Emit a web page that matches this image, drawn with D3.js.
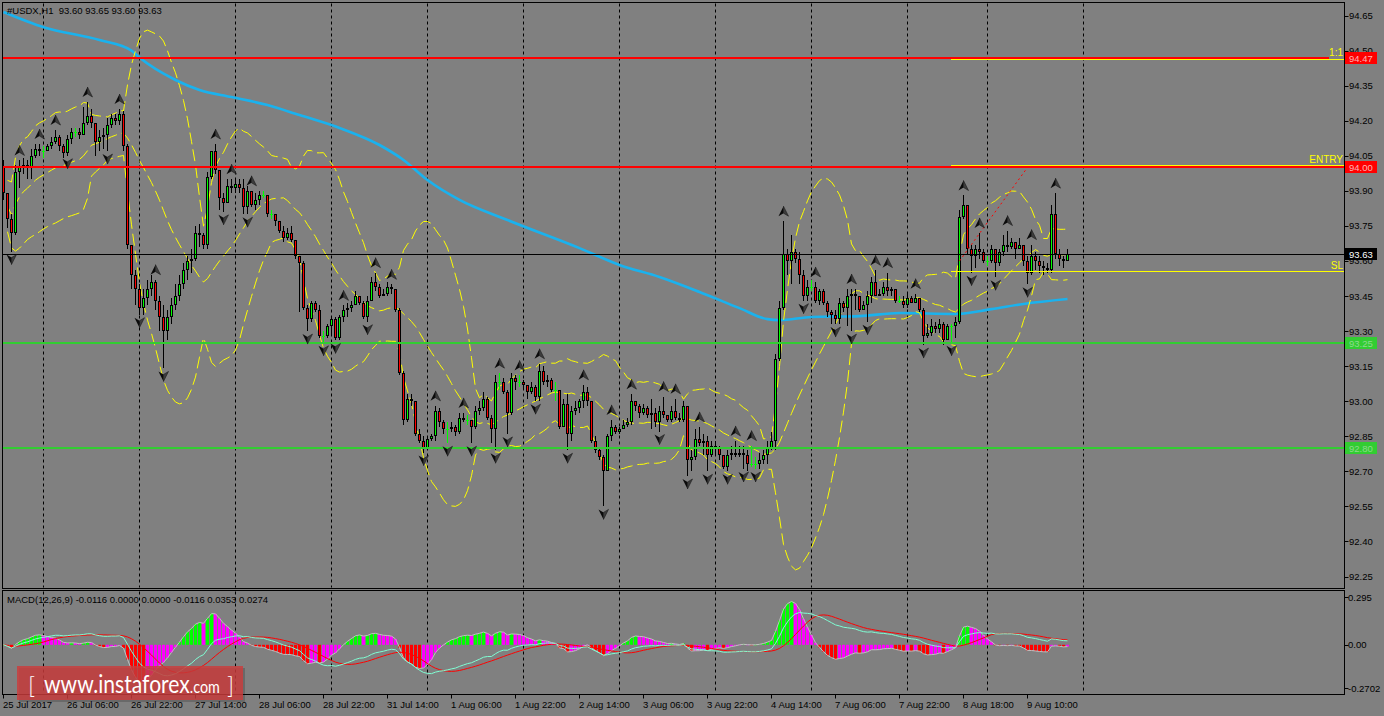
<!DOCTYPE html>
<html><head><meta charset="utf-8">
<script src="https://cdn.jsdelivr.net/npm/d3@7"></script>
<style>html,body{margin:0;padding:0;background:#808080;overflow:hidden}svg{display:block}text{white-space:pre}</style>
</head><body><svg id="c" width="1384" height="716"></svg>
<script>
// ---------------- DATA ----------------
const chartTitle = "#USDX,H1  93.60 93.65 93.60 93.63";
const macdTitle = "MACD(12,26,9) -0.0116 0.0000 0.0000 -0.0116 0.0353 0.0274";
const firstOpen = 94.00;
const closes = [
93.89,93.78,93.72,93.98,94.00,94.01,94.00,94.05,94.08,94.07,
94.07,94.09,94.11,94.13,94.09,94.06,94.12,94.15,94.15,94.14,
94.19,94.22,94.19,94.11,94.13,94.14,94.18,94.21,94.20,94.23,
94.09,93.67,93.54,93.48,93.40,93.44,93.48,93.51,93.43,93.36,
93.30,93.36,93.41,93.45,93.50,93.56,93.60,93.61,93.72,93.71,
93.67,93.96,94.07,93.99,93.87,93.85,93.92,93.91,93.93,93.91,
93.83,93.90,93.84,93.86,93.88,93.88,93.80,93.80,93.77,93.73,
93.70,93.72,93.69,93.62,93.59,93.40,93.35,93.42,93.39,93.28,
93.28,93.32,93.35,93.27,93.36,93.39,93.40,93.41,93.45,93.42,
93.36,93.43,93.51,93.49,93.45,93.46,93.49,93.48,93.39,93.12,
92.92,93.01,93.00,92.86,92.83,92.80,92.84,92.85,92.96,92.91,
92.88,92.88,92.89,92.87,92.93,92.92,92.92,92.89,92.96,92.97,
93.01,92.93,92.88,93.08,93.08,93.04,92.95,93.10,93.08,93.08,
93.07,93.04,93.06,93.02,93.13,93.08,93.09,93.05,93.05,92.89,
92.99,92.86,92.96,92.97,93.00,93.04,93.00,92.83,92.79,92.76,
92.70,92.85,92.89,92.87,92.88,92.90,92.91,93.00,92.98,92.95,
92.97,92.94,92.95,92.91,92.96,92.94,92.92,92.96,92.93,92.92,
92.98,92.75,92.76,92.84,92.82,92.83,92.77,92.81,92.80,92.77,
92.72,92.77,92.78,92.77,92.78,92.77,92.73,92.73,92.73,92.75,
92.77,92.80,92.83,93.18,93.40,93.63,93.60,93.64,93.61,93.54,
93.45,93.49,93.49,93.43,93.47,93.42,93.38,93.37,93.35,93.42,
93.40,93.45,93.46,93.45,93.39,93.41,93.45,93.51,93.45,93.46,
93.49,93.47,93.48,93.43,93.43,93.41,93.44,93.42,93.44,93.39,
93.28,93.29,93.32,93.31,93.33,93.26,93.32,93.32,93.34,93.79,
93.84,93.65,93.62,93.65,93.64,93.60,93.60,93.65,93.59,93.64,
93.67,93.66,93.68,93.65,93.67,93.60,93.55,93.62,93.60,93.58,
93.57,93.56,93.80,93.63,93.61,93.60,93.63];
const highs = [
94.03,93.84,93.80,94.01,94.03,94.04,94.03,94.08,94.10,94.10,
94.09,94.10,94.13,94.16,94.14,94.10,94.14,94.17,94.17,94.17,
94.26,94.28,94.25,94.19,94.16,94.17,94.21,94.23,94.23,94.25,
94.24,94.10,93.67,93.56,93.50,93.48,93.52,93.54,93.52,93.45,
93.41,93.39,93.44,93.50,93.54,93.59,93.62,93.65,93.75,93.76,
93.72,93.98,94.07,94.10,93.99,93.89,93.95,93.95,93.95,93.95,
93.95,93.92,93.90,93.89,93.90,93.90,93.88,93.82,93.80,93.77,
93.75,93.74,93.75,93.69,93.62,93.60,93.41,93.43,93.43,93.41,
93.30,93.33,93.36,93.36,93.37,93.41,93.42,93.43,93.47,93.45,
93.43,93.45,93.53,93.55,93.50,93.48,93.51,93.50,93.48,93.40,
93.13,93.03,93.03,93.00,92.88,92.85,92.85,92.86,92.98,92.97,
92.92,92.91,92.91,92.90,92.95,92.95,92.94,92.92,92.98,93.00,
93.04,93.02,92.94,93.11,93.12,93.10,93.05,93.12,93.11,93.11,
93.09,93.07,93.08,93.07,93.16,93.15,93.11,93.10,93.08,93.05,
93.01,93.03,92.98,93.00,93.01,93.07,93.06,93.00,92.85,92.80,
92.77,92.86,92.92,92.90,92.89,92.92,92.93,93.03,93.00,92.99,
92.99,92.98,93.01,92.97,92.98,93.02,92.94,92.98,93.01,92.95,
93.00,92.98,92.79,92.88,92.89,92.86,92.85,92.83,92.83,92.81,
92.77,92.79,92.81,92.83,92.81,92.81,92.79,92.81,92.76,92.78,
92.79,92.83,92.87,93.20,93.43,93.77,93.65,93.71,93.65,93.64,
93.56,93.52,93.52,93.51,93.48,93.48,93.43,93.39,93.39,93.44,
93.43,93.48,93.48,93.48,93.43,93.43,93.47,93.53,93.56,93.48,
93.51,93.55,93.49,93.48,93.45,93.45,93.46,93.45,93.46,93.44,
93.40,93.33,93.35,93.34,93.35,93.34,93.33,93.33,93.36,93.82,
93.88,93.84,93.67,93.67,93.72,93.65,93.62,93.67,93.62,93.65,
93.71,93.73,93.70,93.68,93.70,93.67,93.62,93.67,93.64,93.62,
93.60,93.59,93.84,93.89,93.65,93.62,93.65];
const lows = [
93.86,93.74,93.64,93.71,93.91,93.97,93.95,93.95,94.04,94.05,
94.04,94.07,94.08,94.10,94.07,94.04,94.05,94.10,94.13,94.12,
94.14,94.18,94.17,94.05,94.07,94.08,94.07,94.17,94.18,94.18,
94.07,93.65,93.48,93.41,93.37,93.37,93.41,93.45,93.39,93.30,
93.14,93.26,93.33,93.39,93.43,93.48,93.52,93.55,93.60,93.66,
93.65,93.65,93.95,93.97,93.82,93.81,93.86,93.89,93.89,93.89,
93.80,93.80,93.83,93.82,93.84,93.87,93.79,93.78,93.75,93.72,
93.68,93.69,93.68,93.61,93.38,93.39,93.30,93.34,93.38,93.27,
93.25,93.27,93.28,93.26,93.26,93.34,93.36,93.38,93.41,93.41,
93.35,93.34,93.43,93.47,93.44,93.45,93.45,93.46,93.38,93.11,
92.90,92.91,92.98,92.85,92.82,92.78,92.79,92.83,92.83,92.89,
92.86,92.82,92.87,92.85,92.86,92.91,92.90,92.82,92.88,92.94,
92.96,92.92,92.82,92.79,93.05,93.03,92.86,92.94,93.05,93.06,
93.05,93.01,93.03,93.00,93.00,93.07,93.06,93.04,93.00,92.88,
92.92,92.79,92.83,92.94,92.95,92.97,92.98,92.82,92.78,92.75,
92.55,92.71,92.83,92.86,92.86,92.88,92.89,92.90,92.96,92.93,
92.94,92.93,92.88,92.89,92.87,92.93,92.91,92.91,92.92,92.91,
92.91,92.68,92.70,92.75,92.81,92.77,92.70,92.76,92.77,92.75,
92.71,92.70,92.75,92.76,92.76,92.71,92.70,92.72,92.71,92.71,
92.73,92.73,92.79,92.79,93.17,93.39,93.54,93.50,93.59,93.50,
93.43,93.43,93.47,93.42,93.41,93.41,93.36,93.33,93.33,93.33,
93.38,93.32,93.30,93.39,93.38,93.39,93.34,93.42,93.45,93.45,
93.45,93.45,93.45,93.42,93.42,93.40,93.40,93.42,93.42,93.38,
93.24,93.27,93.28,93.29,93.29,93.24,93.26,93.25,93.27,93.33,
93.78,93.63,93.55,93.57,93.61,93.59,93.58,93.59,93.53,93.58,
93.62,93.64,93.65,93.61,93.65,93.58,93.50,93.54,93.56,93.55,
93.54,93.55,93.55,93.61,93.58,93.57,93.60];
// 200-period moving average at selected bars
const maBars   = [0,10,24,32,34,43,49,57,66,74,84,94,100,106,114,126,144,154,164,174,184,191,194,202,214,224,238,247,255,266];
const maValues = [94.665,94.60,94.545,94.50,94.47,94.374,94.331,94.301,94.267,94.224,94.169,94.096,94.032,93.946,93.861,93.775,93.655,93.583,93.531,93.467,93.398,93.351,93.347,93.360,93.364,93.377,93.373,93.394,93.416,93.437];
// fractal arrows (bar indices)
const upFractalBars = [4,9,13,21,29,38,53,57,62,85,93,97,108,115,124,129,134,145,152,157,165,168,174,183,187,195,203,212,218,221,228,240,244,251,257,263];
const downFractalBars = [2,16,26,34,40,55,61,76,80,83,91,105,111,117,123,126,133,141,150,164,171,176,181,185,188,200,208,212,216,230,237,242,248,256];
// horizontal levels
const redLevels = [94.47, 94.00];
const greenLevels = [93.25, 92.80];
const bidPrice = 93.63;
const slPrice = 93.555;
const toolStartBar = 237;
const trendFrom = {bar:239, price:93.60};
const trendTo = {bar:256, price:94.00};
// axes
const priceTicks = [94.65,94.50,94.35,94.20,94.05,93.90,93.75,93.60,93.45,93.30,93.15,93.00,92.85,92.70,92.55,92.40,92.25];
const macdTicks = [0.295, 0.00, -0.2702];
const macdTickLabels = ["0.295","0.00","-0.2702"];
const timeLabels = ["25 Jul 2017","26 Jul 06:00","26 Jul 22:00","27 Jul 14:00","28 Jul 06:00","28 Jul 22:00","31 Jul 14:00","1 Aug 06:00","1 Aug 22:00","2 Aug 14:00","3 Aug 06:00","3 Aug 22:00","4 Aug 14:00","7 Aug 06:00","7 Aug 22:00","8 Aug 18:00","9 Aug 10:00"];
const timeLabelBars = [0,16,32,48,64,80,96,112,128,144,160,176,192,208,224,240,256];
const gridBars = [10,34,58,82,106,130,154,178,202,226,246,270];

// ---------------- DRAW ----------------
const FONT = "Liberation Sans, Arial, sans-serif";
const L=2.5, R=1344.5, T=2.5, B=588.5, MT=590.5, MB=694.5;
const svg = d3.select("#c");
svg.append("rect").attr("width",1384).attr("height",716).attr("fill","#808080");

const x = d3.scaleLinear().domain([0,266]).range([3.5,1067.5]);
const y = d3.scaleLinear().domain([92.25,94.65]).range([576.5,15.5]);
const ym = d3.scaleLinear().domain([-0.2702,0.295]).range([688.3,597.3]);
const px = v => Math.round(v) + 0.5;   // crisp 1px lines

const defs = svg.append("defs");
defs.append("clipPath").attr("id","cm").append("rect").attr("x",L+0.5).attr("y",T+0.5).attr("width",R-L-1).attr("height",B-T-1);
defs.append("clipPath").attr("id","cd").append("rect").attr("x",L+0.5).attr("y",MT+0.5).attr("width",R-L-1).attr("height",MB-MT-1);

const bars = closes.map((c,i)=>{
  const o = i ? closes[i-1] : firstOpen;
  return {i, o, c, h:Math.max(highs[i],o,c), l:Math.min(lows[i],o,c)};
});

// grid
const gm = svg.append("g");
gridBars.forEach(b=>{
  [[T+1,B-1],[MT+1,MB-1]].forEach(([a,z])=>{
    gm.append("line").attr("x1",x(b)).attr("x2",x(b)).attr("y1",a).attr("y2",z)
      .attr("stroke","#000").attr("stroke-width",1).attr("stroke-dasharray","3,3");
  });
});

const main = svg.append("g").attr("clip-path","url(#cm)");

// MA 200
main.append("path").datum(maBars.map((b,k)=>[b,maValues[k]]))
  .attr("d", d3.line().x(d=>x(d[0])).y(d=>y(d[1])).curve(d3.curveMonotoneX))
  .attr("fill","none").attr("stroke","#1ab2ee").attr("stroke-width",2.6);

// Bollinger bands (20,2) from closes
const bb = closes.map((c,i)=>{
  const w = closes.slice(Math.max(0,i-19), i+1);
  const m = d3.mean(w);
  const sd = Math.sqrt(d3.mean(w.map(v=>(v-m)*(v-m))));
  return {i, m, u:m+2*sd, d:m-2*sd};
}).filter(d=>d.i>=1);
["u","m","d"].forEach(k=>{
  main.append("path").datum(bb)
    .attr("d", d3.line().x(d=>x(d.i)).y(d=>y(d[k])))
    .attr("fill","none").attr("stroke","#ffff00").attr("stroke-width",1)
    .attr("stroke-dasharray","12,5");
});

// candles
const cg = main.append("g").attr("shape-rendering","crispEdges");
bars.forEach(d=>{
  const cx = x(d.i);
  const doji = Math.abs(d.o-d.c) < 1e-9;
  cg.append("line").attr("x1",cx).attr("x2",cx).attr("y1",Math.round(y(d.h))).attr("y2",Math.round(y(d.l)))
    .attr("stroke", doji ? "#00ff00" : "#000").attr("stroke-width",1);
  if (doji) {
    cg.append("line").attr("x1",cx-1.5).attr("x2",cx+1.5).attr("y1",px(y(d.c))).attr("y2",px(y(d.c)))
      .attr("stroke","#00ff00").attr("stroke-width",1);
  } else {
    const top = Math.round(y(Math.max(d.o,d.c))), bot = Math.round(y(Math.min(d.o,d.c)));
    const hgt = Math.max(1, bot-top);
    cg.append("rect").attr("x",cx-1.5).attr("y",top).attr("width",3).attr("height",hgt).attr("fill","#000");
    if (hgt>2) cg.append("rect").attr("x",cx-0.5).attr("y",top+1).attr("width",1).attr("height",hgt-2)
      .attr("fill", d.c>d.o ? "#00ff00" : "#ff0000");
  }
});

// levels
const lv = main.append("g").attr("shape-rendering","crispEdges");
greenLevels.forEach(v=>{
  lv.append("line").attr("x1",L).attr("x2",R).attr("y1",Math.round(y(v))).attr("y2",Math.round(y(v))).attr("stroke","#32cd32").attr("stroke-width",2);
});
lv.append("line").attr("x1",L).attr("x2",R).attr("y1",px(y(bidPrice))).attr("y2",px(y(bidPrice))).attr("stroke","#000").attr("stroke-width",1);
lv.append("line").attr("x1",L).attr("x2",1329).attr("y1",Math.round(y(redLevels[0]))).attr("y2",Math.round(y(redLevels[0]))).attr("stroke","#ff0000").attr("stroke-width",2);
lv.append("line").attr("x1",L).attr("x2",R).attr("y1",Math.round(y(redLevels[1]))).attr("y2",Math.round(y(redLevels[1]))).attr("stroke","#ff0000").attr("stroke-width",2);
lv.append("line").attr("x1",x(toolStartBar)-0.5).attr("x2",R).attr("y1",Math.round(y(redLevels[0]))+1.5).attr("y2",Math.round(y(redLevels[0]))+1.5).attr("stroke","#ffff00").attr("stroke-width",1);
lv.append("line").attr("x1",x(toolStartBar)-0.5).attr("x2",R).attr("y1",Math.round(y(redLevels[1]))-1.5).attr("y2",Math.round(y(redLevels[1]))-1.5).attr("stroke","#ffff00").attr("stroke-width",1);
lv.append("line").attr("x1",x(toolStartBar)-0.5).attr("x2",R).attr("y1",px(y(slPrice))).attr("y2",px(y(slPrice))).attr("stroke","#ffff00").attr("stroke-width",1.2);

// trend (dotted red)
main.append("line").attr("x1",x(trendFrom.bar)).attr("y1",y(trendFrom.price)).attr("x2",x(trendTo.bar)).attr("y2",y(trendTo.price))
  .attr("stroke","#ff0000").attr("stroke-width",1).attr("stroke-dasharray","2,3");

// fractal arrows
const fg = main.append("g");
upFractalBars.forEach(b=>{
  const g = fg.append("g").attr("transform",`translate(${x(b)},${y(bars[b].h)-10})`);
  g.append("path").attr("d","M0,-5 L-5,5 L0,2 Z").attr("fill","#0a0a0a");
  g.append("path").attr("d","M0,-5 L5,5 L0,2 Z").attr("fill","#3c3c3c").attr("stroke","#111").attr("stroke-width",0.5);
});
downFractalBars.forEach(b=>{
  const g = fg.append("g").attr("transform",`translate(${x(b)},${y(bars[b].l)+8})`);
  g.append("path").attr("d","M0,5 L-5,-5 L0,-2 Z").attr("fill","#0a0a0a");
  g.append("path").attr("d","M0,5 L5,-5 L0,-2 Z").attr("fill","#3c3c3c").attr("stroke","#111").attr("stroke-width",0.5);
});

// level texts
const yel = (t,xx,yy)=>svg.append("text").attr("x",xx).attr("y",yy).attr("text-anchor","end").attr("font-family",FONT).attr("font-size",10).attr("fill","#ffff00").text(t);
yel("1:1",1343,Math.round(y(redLevels[0]))-2);
yel("ENTRY",1343,Math.round(y(redLevels[1]))-4);
yel("SL",1343,Math.round(y(slPrice))-2);

// ---------------- MACD ----------------
const a12=2/13, a26=2/27;
let e12=closes[0], e26=closes[0];
const macd=[], signal=[], hist=[];
closes.forEach((c,i)=>{
  if(i){ e12+=a12*(c-e12); e26+=a26*(c-e26); }
  macd.push(e12-e26);
  signal.push(d3.mean(macd.slice(Math.max(0,i-8))));
  hist.push(2*(macd[i]-signal[i]));
});
const md = svg.append("g").attr("clip-path","url(#cd)");
hist.forEach((h,i)=>{
  const prev = i ? hist[i-1] : 0;
  let col;
  if (h>=0) col = h>=prev ? "#00ff00" : "#ff00ff";
  else col = h<prev ? "#ff0000" : "#ff00ff";
  const y0 = ym(0), y1 = ym(h);
  md.append("rect").attr("x",x(i)-1.5).attr("width",3).attr("y",Math.min(y0,y1)).attr("height",Math.max(0.5,Math.abs(y1-y0))).attr("fill",col);
});
const lineM = d3.line().x((d,i)=>x(i)).y(d=>ym(d));
md.append("path").datum(hist).attr("d",lineM).attr("fill","none").attr("stroke","#c0c0c0").attr("stroke-width",1);
md.append("path").datum(signal).attr("d",lineM).attr("fill","none").attr("stroke","#ff0000").attr("stroke-width",1);
md.append("path").datum(macd).attr("d",lineM).attr("fill","none").attr("stroke","#7fffd4").attr("stroke-width",1);

// ---------------- FRAMES & AXES ----------------
svg.append("rect").attr("x",L).attr("y",T).attr("width",R-L).attr("height",B-T).attr("fill","none").attr("stroke","#000");
svg.append("rect").attr("x",L).attr("y",MT).attr("width",R-L).attr("height",MB-MT).attr("fill","none").attr("stroke","#000");

const ax = svg.append("g").attr("font-family",FONT).attr("font-size",9.5).attr("fill","#000");
priceTicks.forEach(v=>{
  const yy = y(v);
  ax.append("line").attr("x1",R).attr("x2",R+4).attr("y1",px(yy)).attr("y2",px(yy)).attr("stroke","#000");
  ax.append("text").attr("x",1349).attr("y",yy+3.5).text(v.toFixed(2));
});
macdTicks.forEach((v,k)=>{
  const yy = ym(v);
  ax.append("line").attr("x1",R).attr("x2",R+4).attr("y1",px(yy)).attr("y2",px(yy)).attr("stroke","#000");
  ax.append("text").attr("x",1348).attr("y",yy+3.5).text(macdTickLabels[k]);
});
timeLabels.forEach((t,k)=>{
  const xx = x(timeLabelBars[k]);
  ax.append("line").attr("x1",xx).attr("x2",xx).attr("y1",MB).attr("y2",MB+4).attr("stroke","#000");
  ax.append("text").attr("x",xx-0.5).attr("y",708).text(t);
});

// price boxes on axis
function box(v, fill, tcol){
  const yy = y(v);
  svg.append("rect").attr("x",1345).attr("y",Math.round(yy)-6).attr("width",32).attr("height",12).attr("fill",fill);
  svg.append("text").attr("x",1349).attr("y",Math.round(yy)+4).attr("font-family",FONT).attr("font-size",9.5).attr("fill",tcol).text(v.toFixed(2));
}
box(redLevels[0],"#ff0000","#ffb4b4");
box(redLevels[1],"#ff0000","#ffb4b4");
box(greenLevels[0],"#32cd32","#8fd88f");
box(greenLevels[1],"#32cd32","#8fd88f");
box(bidPrice,"#000000","#ffffff");

// titles
svg.append("text").attr("x",7).attr("y",14).attr("font-family",FONT).attr("font-size",9.5).attr("fill","#000").text(chartTitle);
svg.append("text").attr("x",7).attr("y",603).attr("font-family",FONT).attr("font-size",9.5).attr("fill","#000").text(macdTitle);

// watermark logo
const lg = svg.append("g");
lg.append("rect").attr("x",19).attr("y",668).attr("width",226).attr("height",34).attr("fill","#000").attr("opacity",0.18);
lg.append("rect").attr("x",17).attr("y",666).attr("width",226).attr("height",34).attr("fill","#cc3c3c").attr("opacity",0.82);
lg.append("text").attr("x",28).attr("y",694).attr("font-family","Lato, Open Sans, sans-serif").attr("font-weight",300).attr("font-size",24).attr("fill","#fff").text("[");
const urlText = lg.append("text").attr("x",0).attr("y",0).attr("font-family","Lato, Open Sans, sans-serif").attr("fill","#fff");
urlText.append("tspan").attr("font-size",25).text("www.instaforex");
urlText.append("tspan").attr("font-size",17).text(".com");
const natW = urlText.node().getComputedTextLength();
urlText.attr("transform",`translate(44,693) scale(${176/natW},1)`);
lg.append("text").attr("x",227).attr("y",694).attr("font-family","Lato, Open Sans, sans-serif").attr("font-weight",300).attr("font-size",24).attr("fill","#fff").text("]");
</script>
</body></html>
